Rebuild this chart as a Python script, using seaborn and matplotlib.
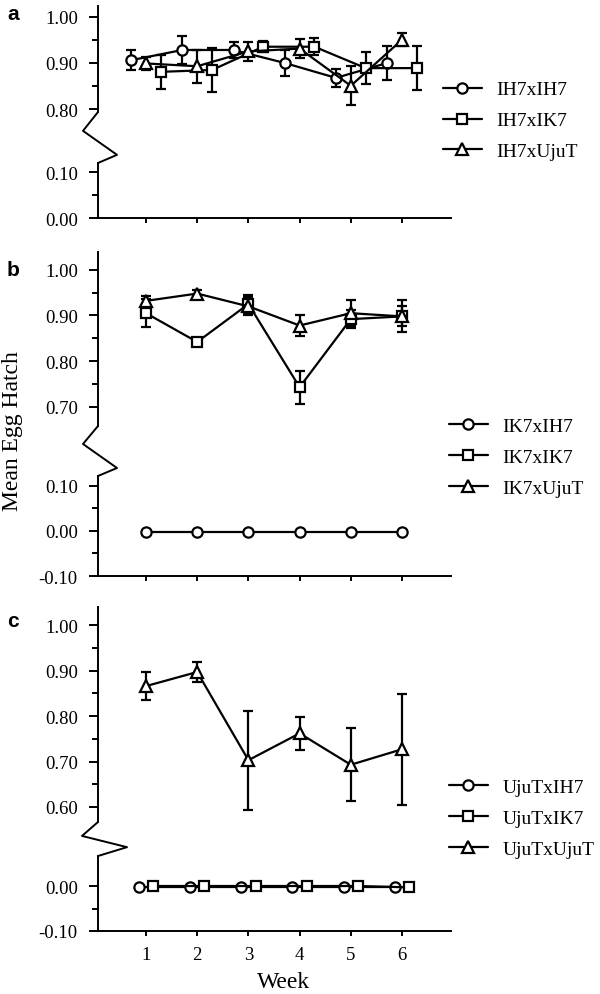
"""
Mean egg hatch by week for three female lines, drawn with broken y axes.
"""

import matplotlib
matplotlib.use("Agg")
import matplotlib.pyplot as plt
from matplotlib.lines import Line2D
import pandas as pd
import seaborn as sns

# ---- data ---------------------------------------------------------------
weeks = [1, 2, 3, 4, 5, 6]

a_crosses = ["IH7xIH7", "IH7xIK7", "IH7xUjuT"]
a_ih7 = [0.906, 0.928, 0.928, 0.900, 0.868, 0.900]
a_ih7_err = [0.022, 0.031, 0.017, 0.027, 0.020, 0.037]
a_ik7 = [0.881, 0.885, 0.935, 0.935, 0.889, 0.889]
a_ik7_err = [0.037, 0.047, 0.012, 0.018, 0.035, 0.047]
a_uju = [0.899, 0.893, 0.925, 0.931, 0.851, 0.950]
a_uju_err = [0.013, 0.035, 0.021, 0.020, 0.042, 0.014]

b_crosses = ["IK7xIH7", "IK7xIK7", "IK7xUjuT"]
b_ih7 = [-0.003, -0.003, -0.003, -0.003, -0.003, -0.003]
b_ih7_err = [0, 0, 0, 0, 0, 0]
b_ik7 = [0.905, 0.842, 0.925, 0.743, 0.892, 0.898]
b_ik7_err = [0.030, 0.008, 0.020, 0.036, 0.020, 0.035]
b_uju = [0.932, 0.948, 0.920, 0.878, 0.905, 0.898]
b_uju_err = [0.010, 0.008, 0.020, 0.023, 0.028, 0.022]

c_crosses = ["UjuTxIH7", "UjuTxIK7", "UjuTxUjuT"]
c_ih7 = [-0.003, -0.003, -0.003, -0.003, -0.003, -0.003]
c_ih7_err = [0, 0, 0, 0, 0, 0]
c_ik7 = [0.0, 0.0, 0.0, 0.0, 0.0, -0.003]
c_ik7_err = [0, 0, 0, 0, 0, 0]
c_uju = [0.866, 0.897, 0.703, 0.762, 0.693, 0.727]
c_uju_err = [0.030, 0.023, 0.109, 0.037, 0.080, 0.122]

a_upper_ticks = [0.80, 0.90, 1.00]
a_lower_ticks = [0.00, 0.10]
b_upper_ticks = [0.70, 0.80, 0.90, 1.00]
b_lower_ticks = [-0.10, 0.00, 0.10]
c_upper_ticks = [0.60, 0.70, 0.80, 0.90, 1.00]
c_lower_ticks = [-0.10, 0.00]

# ---- styling ------------------------------------------------------------
W, H = 600, 995
AX_LEFT, AX_RIGHT = 98, 451
MARKERS = ["o", "s", "^"]
MSIZE = [7.4, 7.4, 8.0]
LW = 1.6

sns.set_theme(style="ticks")
plt.rcParams["font.family"] = ["Liberation Serif", "DejaVu Serif"]
plt.rcParams["axes.linewidth"] = 1.4
for key in ["text.color", "axes.labelcolor", "xtick.color", "ytick.color",
            "axes.edgecolor"]:
    plt.rcParams[key] = "black"


def px_axes(fig, top, bottom):
    return fig.add_axes([AX_LEFT / W, 1 - bottom / H,
                         (AX_RIGHT - AX_LEFT) / W, (bottom - top) / H])


def style_axis(ax, ylim, ticks, minor, is_lower, show_xlabels):
    ax.set_xlim(0.0625, 6.957)
    ax.set_ylim(*ylim)
    ax.set_yticks(ticks, labels=[f"{t:.2f}" for t in ticks])
    ax.set_yticks(minor, minor=True)
    ax.tick_params(axis="y", which="major", direction="out", length=6.5,
                   width=1.4, pad=8, labelsize=13.5, color="black",
                   labelcolor="black")
    ax.tick_params(axis="y", which="minor", direction="out", length=4,
                   width=1.4, color="black")
    for side in ["top", "right"]:
        ax.spines[side].set_visible(False)
    if is_lower:
        ax.set_xticks(weeks)
        ax.tick_params(axis="x", direction="out", length=3.6, width=1.4,
                       pad=7, labelsize=13.5, color="black",
                       labelcolor="black", labelbottom=show_xlabels)
    else:
        ax.spines["bottom"].set_visible(False)
        ax.set_xticks([])
    ax.set_xlabel("")
    ax.set_ylabel("")
    ax.set_facecolor("none")


def draw_series(ax, crosses, means, errs, offsets, ylim):
    rows = []
    for name, m, e, off in zip(crosses, means, errs, offsets):
        if not (ylim[0] < m[0] < ylim[1]):
            continue
        xs = [w + off for w in weeks]
        if any(e):
            ax.errorbar(xs, m, yerr=e, fmt="none", ecolor="black",
                        elinewidth=LW, capsize=3.3, capthick=LW, zorder=2)
        for x, y in zip(xs, m):
            rows.append({"x": x, "hatch": y, "cross": name})
    if not rows:
        return
    df = pd.DataFrame(rows)
    for name in df["cross"].unique():
        i = crosses.index(name)
        sub = df[df["cross"] == name]
        sns.lineplot(data=sub, x="x", y="hatch", ax=ax, color="black",
                     marker=MARKERS[i], markersize=MSIZE[i],
                     markerfacecolor="white", markeredgecolor="black",
                     markeredgewidth=LW, linewidth=LW, sort=False,
                     estimator=None, legend=False, zorder=3)


def draw_break(fig, top, bottom, k1, k2, xl, xr):
    gap = bottom - top
    xs = [AX_LEFT, xl, xr, AX_LEFT]
    ys = [top, top + k1 * gap, top + k2 * gap, bottom]
    fig.add_artist(Line2D([x / W for x in xs], [1 - y / H for y in ys],
                          color="black", lw=1.4,
                          transform=fig.transFigure))


def add_legend(fig, ax, crosses, left, center):
    handles = [Line2D([], [], color="black", marker=MARKERS[i],
                      markersize=MSIZE[i], markerfacecolor="white",
                      markeredgecolor="black", markeredgewidth=LW,
                      linewidth=LW) for i in range(3)]
    ax.legend(handles, crosses, loc="center left",
              bbox_to_anchor=(left / W, 1 - center / H),
              bbox_transform=fig.transFigure, frameon=False,
              fontsize=14, handlelength=2.0, handletextpad=0.75,
              labelspacing=0.68, borderpad=0, borderaxespad=0, numpoints=1)


fig = plt.figure(figsize=(W / 100, H / 100), dpi=100)

panels = [
    dict(crosses=a_crosses,
         means=[a_ih7, a_ik7, a_uju], errs=[a_ih7_err, a_ik7_err, a_uju_err],
         offsets=[-0.29, 0.29, 0.0],
         up=(7, 113), lo=(164, 219),
         up_lim=(0.7946, 1.0226), lo_lim=(0.0, 0.1196),
         up_ticks=a_upper_ticks, lo_ticks=a_lower_ticks,
         up_minor=[0.85, 0.95], lo_minor=[0.05],
         brk=(0.37, 0.84, 83, 117), leg=(443, 121.5),
         tag="a", tag_y=20, xlabels=False),
    dict(crosses=b_crosses,
         means=[b_ih7, b_ik7, b_uju], errs=[b_ih7_err, b_ik7_err, b_uju_err],
         offsets=[0.0, 0.0, 0.0],
         up=(253, 427), lo=(477, 577),
         up_lim=(0.658, 1.039), lo_lim=(-0.10, 0.122),
         up_ticks=b_upper_ticks, lo_ticks=b_lower_ticks,
         up_minor=[0.75, 0.85, 0.95], lo_minor=[-0.05, 0.05],
         brk=(0.36, 0.84, 83, 117), leg=(449, 458),
         tag="b", tag_y=276, xlabels=False),
    dict(crosses=c_crosses,
         means=[c_ih7, c_ik7, c_uju], errs=[c_ih7_err, c_ik7_err, c_uju_err],
         offsets=[-0.14, 0.14, 0.0],
         up=(608, 823), lo=(857, 932),
         up_lim=(0.567, 1.040), lo_lim=(-0.10, 0.0667),
         up_ticks=c_upper_ticks, lo_ticks=c_lower_ticks,
         up_minor=[0.65, 0.75, 0.85, 0.95], lo_minor=[-0.05],
         brk=(0.41, 0.74, 82, 127), leg=(449, 819),
         tag="c", tag_y=627, xlabels=True),
]

for p in panels:
    ax_up = px_axes(fig, *p["up"])
    ax_lo = px_axes(fig, *p["lo"])
    draw_series(ax_up, p["crosses"], p["means"], p["errs"], p["offsets"],
                p["up_lim"])
    draw_series(ax_lo, p["crosses"], p["means"], p["errs"], p["offsets"],
                p["lo_lim"])
    style_axis(ax_up, p["up_lim"], p["up_ticks"], p["up_minor"], False, False)
    style_axis(ax_lo, p["lo_lim"], p["lo_ticks"], p["lo_minor"], True,
               p["xlabels"])
    k1, k2, xl, xr = p["brk"]
    draw_break(fig, p["up"][1], p["lo"][0], k1, k2, xl, xr)
    add_legend(fig, ax_up, p["crosses"], *p["leg"])
    fig.text(7 / W, 1 - p["tag_y"] / H, p["tag"], ha="left", va="baseline",
             fontsize=15, fontweight="bold",
             family=["Liberation Sans", "DejaVu Sans"])

fig.text(13 / W, 1 - 431 / H, "Mean Egg Hatch", rotation=90,
         ha="center", va="center", fontsize=17)
fig.text(284 / W, 1 - 988 / H, "Week", ha="center", va="baseline",
         fontsize=17)

fig.savefig("out.png", dpi=100, facecolor="white")
